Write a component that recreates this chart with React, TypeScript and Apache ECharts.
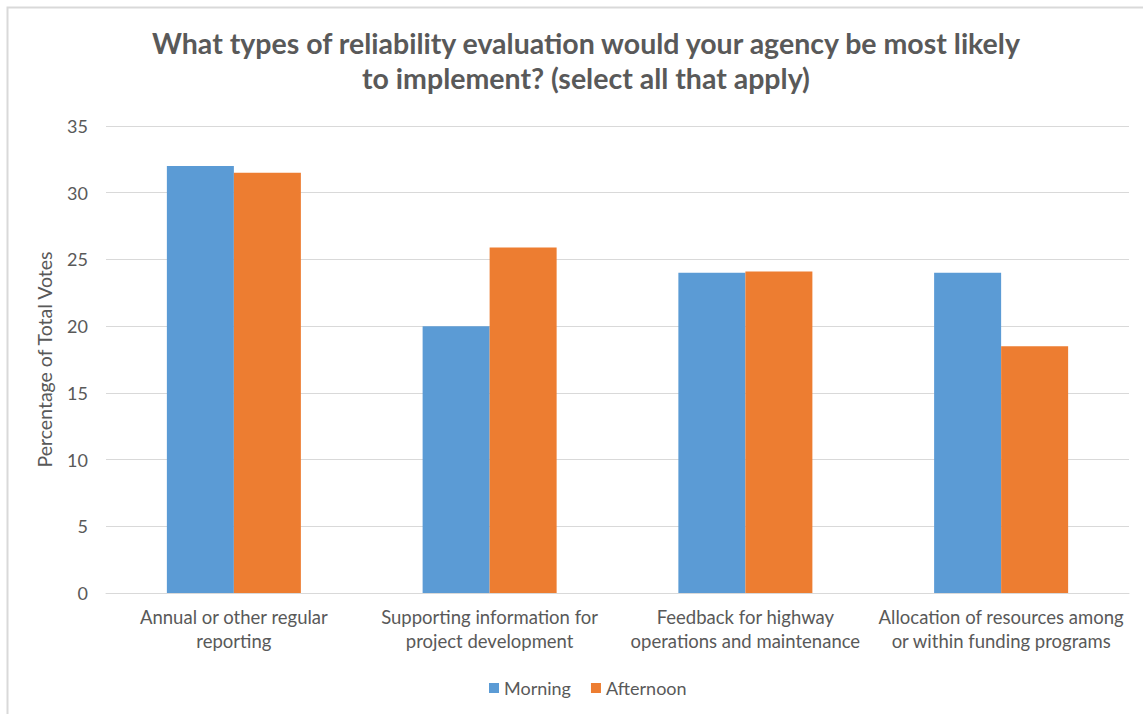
import React, { useEffect, useRef } from "react";
import * as echarts from "echarts";

const categories = [
  "Annual or other regular\nreporting",
  "Supporting information for\nproject development",
  "Feedback for highway\noperations and maintenance",
  "Allocation of resources among\nor within funding programs",
];
const morning = [32, 20, 24, 24];
const afternoon = [31.5, 25.9, 24.1, 18.5];
const seriesNames = ["Morning", "Afternoon"];
const titleText =
  "What types of reliability evaluation would your agency be most likely\nto implement? (select all that apply)";
const yAxisName = "Percentage of Total Votes";

const FONT = "Lato, 'Open Sans', sans-serif";
const TXT = "#595959";

export default function App() {
  const ref = useRef<HTMLDivElement>(null);
  useEffect(() => {
    if (!ref.current) return;
    const chart = echarts.init(ref.current, null, { renderer: "svg" });
    chart.setOption({
      animation: false,
      backgroundColor: "#ffffff",
      textStyle: { fontFamily: FONT },
      title: {
        text: titleText,
        left: 581,
        textAlign: "center",
        top: 20,
        textStyle: {
          fontFamily: FONT,
          fontSize: 28.5,
          fontWeight: "bold",
          color: TXT,
          lineHeight: 35,
        },
      },
      graphic: [
        {
          type: "rect",
          shape: { x: 7.5, y: 7.5, width: 1300, height: 900 },
          style: { fill: "none", stroke: "#d9d9d9", lineWidth: 2 },
          silent: true,
        },
      ],
      legend: {
        data: seriesNames,
        left: 484,
        top: 674,
        itemWidth: 10,
        itemHeight: 10,
        itemGap: 20,
        icon: "rect",
        textStyle: { fontFamily: FONT, fontSize: 18, color: TXT },
      },
      grid: { left: 106, right: 14, top: 126, bottom: 121, containLabel: false },
      xAxis: {
        type: "category",
        data: categories,
        axisLine: { lineStyle: { color: "#d9d9d9", width: 1 } },
        axisTick: { show: false },
        axisLabel: {
          fontFamily: FONT,
          fontSize: 18.5,
          color: TXT,
          lineHeight: 24,
          margin: 12,
          interval: 0,
        },
      },
      yAxis: {
        type: "value",
        min: 0,
        max: 35,
        interval: 5,
        name: yAxisName,
        nameLocation: "middle",
        nameGap: 52,
        nameTextStyle: { fontFamily: FONT, fontSize: 19.5, color: TXT },
        axisLine: { show: false },
        axisTick: { show: false },
        axisLabel: { fontFamily: FONT, fontSize: 18, color: TXT, margin: 18 },
        splitLine: { lineStyle: { color: "#d9d9d9", width: 1 } },
      },
      series: [
        {
          name: seriesNames[0],
          type: "bar",
          data: morning,
          barGap: "0%",
          barCategoryGap: "47.6%",
          itemStyle: { color: "#5B9BD5" },
        },
        {
          name: seriesNames[1],
          type: "bar",
          data: afternoon,
          barGap: "0%",
          barCategoryGap: "47.6%",
          itemStyle: { color: "#ED7D31" },
        },
      ],
    });
    return () => chart.dispose();
  }, []);
  return (
    <div
      ref={ref}
      style={{ position: "absolute", left: 0, top: 0, width: 1143, height: 714 }}
    />
  );
}
